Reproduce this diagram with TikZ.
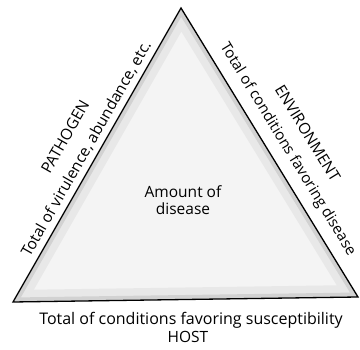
\documentclass[tikz,border=0pt]{standalone}
\usepackage{fontspec}
\setmainfont{Open Sans}
\tikzset{
  side/.style={sloped,inner sep=0pt,text depth=0pt},
}
\begin{document}
\begin{tikzpicture}[x=1pt,y=-1pt,font=\fontsize{15.5}{17}\selectfont]
  \useasboundingbox (0,0) rectangle (360,350);
  \coordinate (top) at (181,8);
  \coordinate (bl) at (13,302);
  \coordinate (br) at (358,297);
  \fill[gray!9] (top) -- (bl) -- (br) -- cycle;
  \begin{scope}
    \clip (top) -- (bl) -- (br) -- cycle;
    \draw[gray!18,line width=24pt] (top) -- (bl) -- (br) -- cycle;
    \draw[gray!35,line width=9pt] (top) -- (bl) -- (br) -- cycle;
  \end{scope}
  \draw[line width=1.3pt] (top) -- (bl) -- (br) -- cycle;
  % sides
  \path (bl) -- (top) node[side,pos=0.5,above=7pt] (virulence) {Total of virulence, abundance, etc.}
                      node[side,pos=0.5,above=31pt] (pathogen) {PATHOGEN};
  \path (top) -- (br) node[side,pos=0.52,above=13pt,font=\fontsize{15}{17}\selectfont] (favoring) {Total of conditions favoring disease}
                      node[side,pos=0.51,above=37pt] (environment) {ENVIRONMENT};
  \node[align=center] (amount) at (183,200) {Amount of\\disease};
  % base
  \node[font=\fontsize{16}{18}\selectfont] (susceptibility) at (191,320) {Total of conditions favoring susceptibility};
  \node (host) at (188,337) {HOST};
\end{tikzpicture}
\end{document}
